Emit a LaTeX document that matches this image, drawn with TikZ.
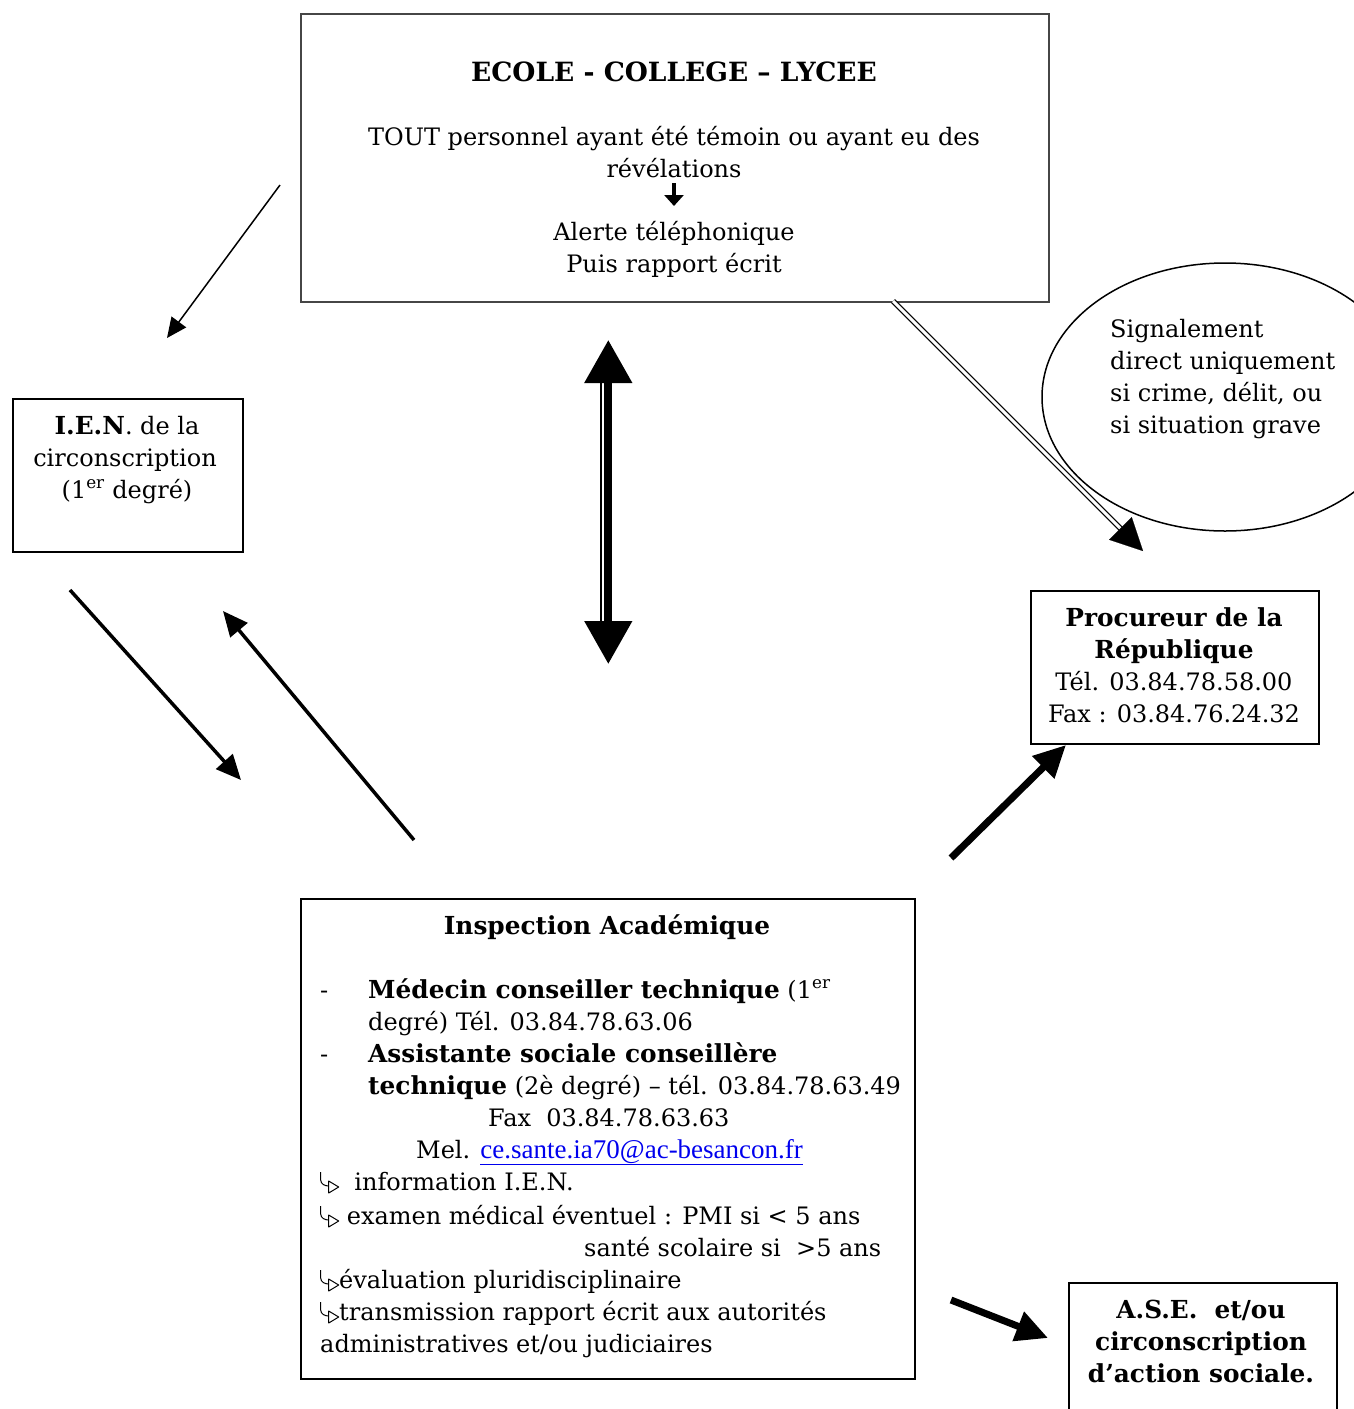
\documentclass[tikz,border=0pt]{standalone}
\usepackage{fontspec}
\setmainfont{DejaVu Serif}
\newfontfamily\timesfont{Liberation Serif}
\usetikzlibrary{arrows.meta,shapes.geometric,calc}
\definecolor{linkblue}{RGB}{0,0,238}
\definecolor{boxgrey}{RGB}{70,70,70}
\newcommand{\hk}{\tikz[baseline=0pt,line width=1pt,x=1pt,y=1pt]{%
  \draw (1,18) -- (1,10) to[out=-90,in=180] (9,4);
  \draw[line join=round] (9,9) -- (19,3) -- (9,-3) -- cycle;}}
\newcommand{\bt}[1]{{\fontsize{24.8}{32}\selectfont\bfseries #1}}
\begin{document}
\begin{tikzpicture}[x=1pt,y=-1pt,
  txt/.style={inner sep=0pt,font=\fontsize{24}{32}\selectfont},
  box/.style={draw,line width=1.5pt,inner sep=0pt,anchor=north west},
  thinarr/.style={line width=1.5pt,-{Triangle[length=20pt,width=18pt]}},
  medarr/.style={line width=3.5pt,-{Triangle[length=25pt,width=22pt]}},
  bigarr/.style={line width=7pt,-{Triangle[length=32pt,width=30pt]}}]
\useasboundingbox (0,0) rectangle (1354,1409);
\clip (0,0) rectangle (1354,1409);
\fill[white] (0,0) rectangle (1354,1409);

% boxes
\node[box,draw=boxgrey,minimum width=748pt,minimum height=288pt] (ecole) at (300,13) {};
\node[box,minimum width=230pt,minimum height=153pt] (ien) at (12,398) {};
\node[ellipse,draw,line width=1.5pt,minimum width=366pt,minimum height=268pt,inner sep=0pt] (ell) at (1225,397) {};
\node[box,minimum width=288pt,minimum height=153pt] (proc) at (1030,590) {};
\node[box,minimum width=614pt,minimum height=480pt] (insp) at (300,898) {};
\node[box,minimum width=268pt,minimum height=160pt] (ase) at (1068,1282) {};

% top box text
\node[txt,anchor=base] (e1) at (674,81) {\fontsize{26.5}{32}\selectfont\bfseries ECOLE - COLLEGE – LYCEE};
\node[txt,anchor=base] (e2) at (674,145) {TOUT personnel ayant été témoin ou ayant eu des};
\node[txt,anchor=base] (e3) at (674,177) {révélations};
\coordinate (sa1) at (674,183);
\coordinate (sa2) at (674,206);
\draw[line width=3.5pt,-{Triangle[length=11pt,width=19pt]}] (sa1) -- (sa2);
\node[txt,anchor=base] (e4) at (674,240) {Alerte téléphonique};
\node[txt,anchor=base] (e5) at (674,272) {Puis rapport écrit};

% IEN text
\node[txt,anchor=base] (i1) at (127,434) {\bt{I.E.N}. de la};
\node[txt,anchor=base] (i2) at (125,466) {circonscription};
\node[txt,anchor=base] (i3) at (127,498) {(1\textsuperscript{er} degré)};

% ellipse text
\node[txt,anchor=base west] (s1) at (1110,337) {Signalement};
\node[txt,anchor=base west] (s2) at (1110,369) {direct uniquement};
\node[txt,anchor=base west] (s3) at (1110,401) {si crime, délit, ou};
\node[txt,anchor=base west] (s4) at (1110,433) {si situation grave};

% procureur text
\node[txt,anchor=base] (p1) at (1174,626) {\bt{Procureur de la}};
\node[txt,anchor=base] (p2) at (1174,658) {\bt{République}};
\node[txt,anchor=base] (p3) at (1174,690) {Tél. 03.84.78.58.00};
\node[txt,anchor=base] (p4) at (1174,722) {Fax : 03.84.76.24.32};

% inspection text
\node[txt,anchor=base] (a0) at (607,934) {\bt{Inspection Académique}};
\node[txt,anchor=base west] (d1) at (320,998) {-};
\node[txt,anchor=base west] (a1) at (368,998) {\bt{Médecin conseiller technique} (1\textsuperscript{er}};
\node[txt,anchor=base west] (a2) at (368,1030) {degré) Tél. 03.84.78.63.06};
\node[txt,anchor=base west] (d2) at (320,1062) {-};
\node[txt,anchor=base west] (a3) at (368,1062) {\bt{Assistante sociale conseillère}};
\node[txt,anchor=base west] (a4) at (368,1094) {\bt{technique} (2è degré) – tél. 03.84.78.63.49};
\node[txt,anchor=base west] (a5) at (488,1126) {Fax\ \ 03.84.78.63.63};
\node[txt,anchor=base west] (a6) at (416,1158) {Mel. {\timesfont\fontsize{27}{32}\selectfont\color{linkblue}\underline{ce.sante.ia70@ac-besancon.fr}}};
\node[txt,anchor=base west] (a7) at (320,1190) {\hk\ \ information I.E.N.};
\node[txt,anchor=base west] (a8) at (320,1224) {\hk\ examen médical éventuel : PMI si < 5 ans};
\node[txt,anchor=base west] (a9) at (584,1256) {santé scolaire si\ \ >5 ans};
\node[txt,anchor=base west] (a10) at (320,1288) {\hk évaluation pluridisciplinaire};
\node[txt,anchor=base west] (a11) at (320,1320) {\hk transmission rapport écrit aux autorités};
\node[txt,anchor=base west] (a12) at (320,1352) {administratives et/ou judiciaires};

% ASE text
\node[txt,anchor=base] (b1) at (1201,1318) {\bt{A.S.E.\ \ et/ou}};
\node[txt,anchor=base] (b2) at (1201,1350) {\bt{circonscription}};
\node[txt,anchor=base] (b3) at (1201,1382) {\bt{d’action sociale.}};

% connectors
\coordinate (c1s) at (280,185);
\coordinate (c1e) at (167,338);
\draw[thinarr] (c1s) -- (c1e);

\coordinate (c2s) at (70,590);
\coordinate (c2e) at (241,780);
\draw[medarr] (c2s) -- (c2e);

\coordinate (c3s) at (414,840);
\coordinate (c3e) at (223,611);
\draw[medarr] (c3s) -- (c3e);

\coordinate (vt) at (607,340);
\coordinate (vb) at (607,664);
\draw[line width=8pt,{Triangle[length=43pt,width=46pt]}-{Triangle[length=43pt,width=46pt]}] ($(vt)+(1.3,0)$) -- ($(vb)+(1.3,0)$);
\draw[line width=2pt] ($(vt)+(-6.5,40)$) -- ($(vb)+(-6.5,-40)$);

\coordinate (dls) at (893,301);
\coordinate (dle) at (1143,551);
\draw[double,double distance=3pt,line width=1.3pt] (dls) -- ($(dle)!22pt!(dls)$);
\draw[line width=0.1pt,-{Triangle[length=32pt,width=32pt]}] ($(dle)!33pt!(dls)$) -- (dle);

\coordinate (t1s) at (951,858);
\coordinate (t1e) at (1066,745);
\draw[bigarr] (t1s) -- (t1e);

\coordinate (t2s) at (951,1300);
\coordinate (t2e) at (1048,1338);
\draw[bigarr] (t2s) -- (t2e);
\end{tikzpicture}
\end{document}
